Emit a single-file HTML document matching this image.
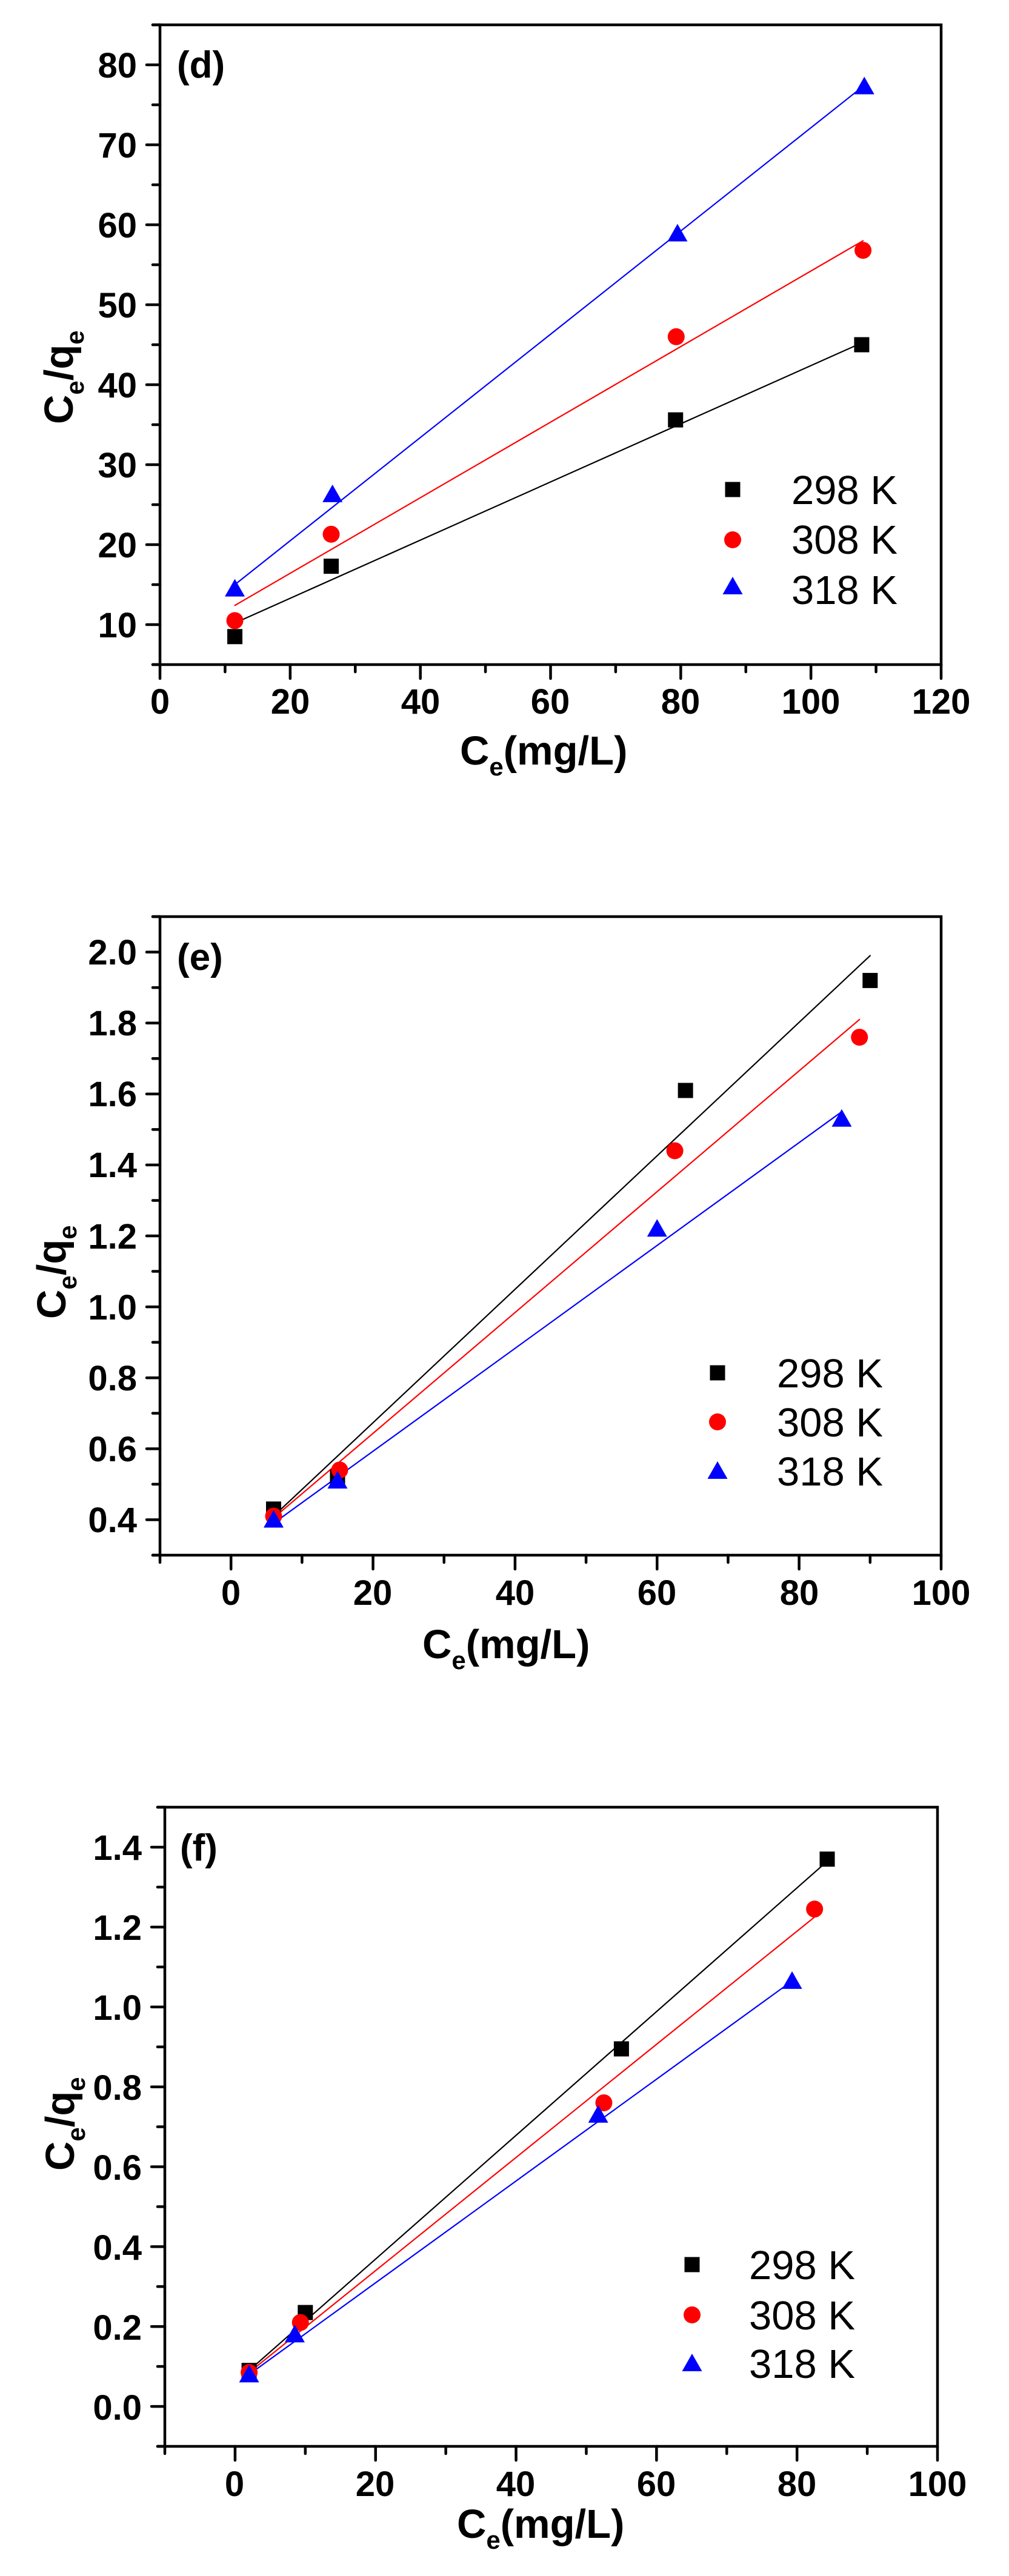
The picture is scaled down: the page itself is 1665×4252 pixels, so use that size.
<!DOCTYPE html>
<html><head><meta charset="utf-8">
<style>
html,body{margin:0;padding:0;background:#fff;}
svg{display:block;}
.t{font-family:"Liberation Sans",Arial,sans-serif;font-weight:bold;font-size:58px;fill:#000;}
.pl{font-family:"Liberation Sans",Arial,sans-serif;font-weight:bold;font-size:62px;fill:#000;}
.lg{font-family:"Liberation Sans",Arial,sans-serif;font-size:67px;fill:#000;}
.ti{font-family:"Liberation Sans",Arial,sans-serif;font-weight:bold;font-size:67px;fill:#000;}
.sb{font-size:42px;}
</style></head>
<body>
<svg id="s" width="1665" height="4252" viewBox="0 0 1665 4252" xmlns="http://www.w3.org/2000/svg">
<rect width="1665" height="4252" fill="#fff"/>
<g id="g"></g>

<!-- Panel d text -->
<g class="t" text-anchor="middle">
<text x="264" y="1178">0</text><text x="479" y="1178">20</text><text x="694" y="1178">40</text>
<text x="908" y="1178">60</text><text x="1123" y="1178">80</text><text x="1338" y="1178">100</text><text x="1553" y="1178">120</text>
</g>
<g class="t" text-anchor="end">
<text x="226" y="1052">10</text><text x="226" y="920">20</text><text x="226" y="788">30</text><text x="226" y="656">40</text>
<text x="226" y="524">50</text><text x="226" y="392">60</text><text x="226" y="260">70</text><text x="226" y="128">80</text>
</g>
<text class="pl" x="292" y="128">(d)</text>
<text class="lg" x="1306" y="832">298 K</text>
<text class="lg" x="1306" y="914">308 K</text>
<text class="lg" x="1306" y="997">318 K</text>
<text class="ti" x="759" y="1262">C<tspan class="sb" dy="18">e</tspan><tspan dy="-18">(mg/L)</tspan></text>
<text class="ti" transform="translate(120,700) rotate(-90)">C<tspan class="sb" dy="18">e</tspan><tspan dy="-18">/q</tspan><tspan class="sb" dy="18">e</tspan></text>

<!-- Panel e text -->
<g class="t" text-anchor="middle">
<text x="381" y="2649">0</text><text x="615" y="2649">20</text><text x="850" y="2649">40</text>
<text x="1084" y="2649">60</text><text x="1319" y="2649">80</text><text x="1553" y="2649">100</text>
</g>
<g class="t" text-anchor="end">
<text x="226" y="2529">0.4</text><text x="226" y="2412">0.6</text><text x="226" y="2295">0.8</text><text x="226" y="2178">1.0</text>
<text x="226" y="2061">1.2</text><text x="226" y="1943">1.4</text><text x="226" y="1826">1.6</text><text x="226" y="1709">1.8</text><text x="226" y="1592">2.0</text>
</g>
<text class="pl" x="292" y="1601">(e)</text>
<text class="lg" x="1282" y="2290">298 K</text>
<text class="lg" x="1282" y="2371">308 K</text>
<text class="lg" x="1282" y="2452">318 K</text>
<text class="ti" x="697" y="2737">C<tspan class="sb" dy="18">e</tspan><tspan dy="-18">(mg/L)</tspan></text>
<text class="ti" transform="translate(108,2177) rotate(-90)">C<tspan class="sb" dy="18">e</tspan><tspan dy="-18">/q</tspan><tspan class="sb" dy="18">e</tspan></text>

<!-- Panel f text -->
<g class="t" text-anchor="middle">
<text x="387" y="4120">0</text><text x="619" y="4120">20</text><text x="851" y="4120">40</text>
<text x="1083" y="4120">60</text><text x="1315" y="4120">80</text><text x="1547" y="4120">100</text>
</g>
<g class="t" text-anchor="end">
<text x="234" y="3994">0.0</text><text x="234" y="3862">0.2</text><text x="234" y="3730">0.4</text><text x="234" y="3598">0.6</text>
<text x="234" y="3466">0.8</text><text x="234" y="3334">1.0</text><text x="234" y="3202">1.2</text><text x="234" y="3070">1.4</text>
</g>
<text class="pl" x="297" y="3071">(f)</text>
<text class="lg" x="1236" y="3762">298 K</text>
<text class="lg" x="1236" y="3845">308 K</text>
<text class="lg" x="1236" y="3925">318 K</text>
<text class="ti" x="754" y="4189">C<tspan class="sb" dy="18">e</tspan><tspan dy="-18">(mg/L)</tspan></text>
<text class="ti" transform="translate(122,3583) rotate(-90)">C<tspan class="sb" dy="18">e</tspan><tspan dy="-18">/q</tspan><tspan class="sb" dy="18">e</tspan></text>
</svg>
<script>
(function(){
var NS="http://www.w3.org/2000/svg",g=document.getElementById("g");
function el(n,a){var e=document.createElementNS(NS,n);for(var k in a)e.setAttribute(k,a[k]);g.appendChild(e);return e;}
function line(x1,y1,x2,y2,c,w){el("line",{x1:x1,y1:y1,x2:x2,y2:y2,stroke:c,"stroke-width":w,"stroke-linecap":"round"});}
function sq(x,y){el("rect",{x:x-12.5,y:y-12.5,width:25,height:25,fill:"#000"});}
function ci(x,y){el("circle",{cx:x,cy:y,r:14,fill:"#f00"});}
function tr(x,y){el("polygon",{points:(x-16.5)+","+(y+13)+" "+(x+16.5)+","+(y+13)+" "+x+","+(y-16),fill:"#00f"});}
var P=[
 {L:264,R:1553,T:41,B:1097,x0:0,x1:120,y0:5,y1:85,xmaj:20,xmin:10,ymaj:10,ymin:5,yfirst:10,
  leg:[1209,808,891,968],
  s:[[[11.5,8.5],[26.3,17.3],[79.2,35.6],[107.8,45]],[[11.5,10.5],[26.3,21.3],[79.3,46],[108,56.8]],[[11.5,14.5],[26.5,26.3],[79.5,58.9],[108.2,77.3]]],
  f:[[11.5,10.2,108,45.3],[11.5,12.4,108,58],[11.5,15,108,77.3]]},
 {L:264,R:1553,T:1513,B:2567,x0:-10,x1:100,y0:0.3,y1:2.1,xmaj:20,xmin:10,ymaj:0.2,ymin:0.1,yfirst:0.4,
  leg:[1184,2266,2347,2428],
  s:[[[6,0.43],[15,0.52],[64,1.61],[90,1.92]],[[6,0.41],[15.3,0.54],[62.5,1.44],[88.5,1.76]],[[6,0.4],[15,0.51],[60,1.22],[86,1.53]]],
  f:[[6,0.41,90,1.99],[6,0.405,88.5,1.81],[6,0.39,86,1.55]]},
 {L:272,R:1547,T:2983,B:4038,x0:-10,x1:100,y0:-0.1,y1:1.5,xmaj:20,xmin:10,ymaj:0.2,ymin:0.1,yfirst:0.0,
  leg:[1142,3738,3821,3901],
  s:[[[2,0.09],[10,0.235],[55,0.895],[84.3,1.37]],[[2,0.085],[9.3,0.21],[52.5,0.76],[82.5,1.245]],[[2,0.08],[8.5,0.18],[51.7,0.73],[79.3,1.065]]],
  f:[[2,0.09,84,1.36],[2,0.085,82.5,1.225],[2,0.08,79.3,1.065]]}
];
var cols=["#000","#f00","#00f"],mk=[sq,ci,tr];
P.forEach(function(p){
 function X(v){return p.L+(v-p.x0)/(p.x1-p.x0)*(p.R-p.L);}
 function Y(v){return p.B-(v-p.y0)/(p.y1-p.y0)*(p.B-p.T);}
 el("rect",{x:p.L,y:p.T,width:p.R-p.L,height:p.B-p.T,fill:"none",stroke:"#000","stroke-width":4.5});
 line(p.L-12,p.B,p.L,p.B,"#000",4.5);line(p.L,p.T,p.L-12,p.T,"#000",4.5);
 for(var v=p.x0;v<=p.x1+1e-6;v+=p.xmin){var maj=Math.abs(Math.round(v/p.xmaj)*p.xmaj-v)<1e-6;line(X(v),p.B,X(v),p.B+(maj?23:12),"#000",4.5);}
 for(var k=0;;k++){var w=p.y0+k*p.ymin;if(w>p.y1+1e-6)break;var q=Math.round((w-p.yfirst)/p.ymaj);var maj=Math.abs(p.yfirst+q*p.ymaj-w)<1e-6;line(p.L,Y(w),p.L-(maj?22:12),Y(w),"#000",4.5);}
 p.f.forEach(function(f,i){line(X(f[0]),Y(f[1]),X(f[2]),Y(f[3]),cols[i],2.2);});
 p.s.forEach(function(s,i){s.forEach(function(pt){mk[i](X(pt[0]),Y(pt[1]));});});
 sq(p.leg[0],p.leg[1]);ci(p.leg[0],p.leg[2]);tr(p.leg[0],p.leg[3]);
});
})();
</script>
</body></html>
